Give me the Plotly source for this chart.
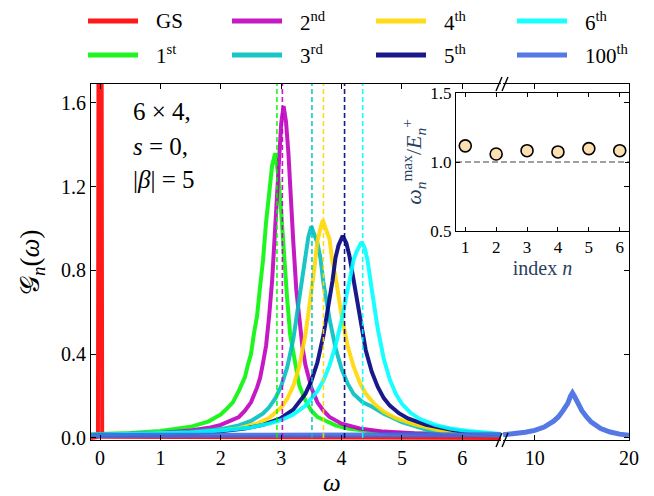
import plotly.graph_objects as go

# ---------------- data ----------------
gs_x = [-0.15, -0.035, -0.022, 0.0, 0.022, 0.035, 6.64]
gs_y = [0.0, 0.005, 2.6, 5.0, 2.6, 0.005, 0.0]

n1_x = [-0.15, 0.0, 0.5, 1.0, 1.5, 1.8, 2.0, 2.1, 2.2, 2.3, 2.4, 2.45, 2.5, 2.55, 2.6, 2.65, 2.7, 2.75,
        2.8, 2.85, 2.9, 2.95, 3.0, 3.05, 3.1, 3.15, 3.2, 3.3, 3.4, 3.5, 3.6, 3.75, 3.9, 4.1, 4.4, 4.8,
        5.3, 6.0, 6.64]
n1_y = [0.018, 0.019, 0.024, 0.033, 0.053, 0.079, 0.112, 0.14, 0.17, 0.226, 0.29, 0.35, 0.40, 0.50,
        0.58, 0.72, 0.85, 1.03, 1.17, 1.30, 1.36, 1.26, 1.08, 0.83, 0.66, 0.49, 0.40, 0.25, 0.18,
        0.13, 0.10, 0.082, 0.06, 0.045, 0.034, 0.025, 0.019, 0.015, 0.012]

n2_x = [-0.15, 0.0, 0.5, 1.0, 1.5, 1.8, 2.0, 2.2, 2.3, 2.4, 2.5, 2.6, 2.65, 2.7, 2.75, 2.8, 2.85,
        2.9, 2.95, 3.0, 3.04, 3.08, 3.12, 3.16, 3.2, 3.25, 3.3, 3.35, 3.4, 3.5, 3.6, 3.7, 3.8, 4.0,
        4.3, 4.7, 5.2, 6.0, 6.64]
n2_y = [0.014, 0.015, 0.018, 0.024, 0.036, 0.048, 0.062, 0.085, 0.10, 0.13, 0.17, 0.24, 0.285,
        0.36, 0.44, 0.58, 0.75, 1.00, 1.26, 1.50, 1.585, 1.51, 1.36, 1.12, 0.94, 0.71, 0.56, 0.44,
        0.35, 0.24, 0.17, 0.13, 0.10, 0.068, 0.045, 0.03, 0.022, 0.016, 0.012]

n3_x = [-0.15, 0.0, 0.5, 1.0, 1.5, 2.0, 2.3, 2.5, 2.7, 2.8, 2.9, 3.0, 3.1, 3.2, 3.25, 3.3, 3.35,
        3.4, 3.45, 3.5, 3.55, 3.6, 3.65, 3.7, 3.8, 3.9, 4.0, 4.1, 4.2, 4.35, 4.5, 4.7, 5.0, 5.45,
        6.0, 6.64]
n3_y = [0.014, 0.015, 0.017, 0.021, 0.028, 0.042, 0.06, 0.081, 0.117, 0.146, 0.187, 0.247, 0.337,
        0.47, 0.57, 0.66, 0.79, 0.89, 0.96, 1.01, 0.97, 0.93, 0.86, 0.74, 0.57, 0.43, 0.33, 0.26,
        0.21, 0.17, 0.15, 0.115, 0.075, 0.035, 0.022, 0.015]

n4_x = [-0.15, 0.0, 0.5, 1.0, 1.5, 2.0, 2.3, 2.6, 2.8, 3.0, 3.1, 3.2, 3.3, 3.4, 3.45, 3.5, 3.55,
        3.6, 3.65, 3.69, 3.75, 3.8, 3.85, 3.9, 4.0, 4.1, 4.2, 4.3, 4.4, 4.55, 4.7, 4.9, 5.2, 5.7,
        6.2, 6.64]
n4_y = [0.013, 0.014, 0.015, 0.019, 0.024, 0.034, 0.046, 0.068, 0.095, 0.145, 0.187, 0.248, 0.342,
        0.49, 0.58, 0.70, 0.81, 0.94, 1.00, 1.04, 0.99, 0.95, 0.84, 0.77, 0.585, 0.44, 0.34, 0.265,
        0.212, 0.16, 0.125, 0.094, 0.065, 0.03, 0.02, 0.014]

n5_x = [-0.15, 0.0, 0.5, 1.0, 1.5, 2.0, 2.4, 2.7, 3.0, 3.2, 3.4, 3.5, 3.6, 3.7, 3.75, 3.8, 3.85,
        3.9, 3.95, 4.02, 4.08, 4.13, 4.2, 4.3, 4.4, 4.5, 4.6, 4.7, 4.8, 4.95, 5.1, 5.4, 5.95, 6.64]
n5_y = [0.014, 0.014, 0.016, 0.019, 0.023, 0.032, 0.045, 0.062, 0.095, 0.135, 0.21, 0.272, 0.36,
        0.49, 0.57, 0.66, 0.75, 0.86, 0.92, 0.965, 0.93, 0.87, 0.75, 0.57, 0.42, 0.316, 0.243,
        0.19, 0.154, 0.118, 0.093, 0.062, 0.032, 0.016]

n6_x = [-0.15, 0.0, 0.5, 1.0, 1.5, 2.0, 2.5, 2.8, 3.0, 3.2, 3.4, 3.6, 3.7, 3.8, 3.9, 4.0, 4.05,
        4.1, 4.15, 4.2, 4.25, 4.33, 4.38, 4.43, 4.5, 4.6, 4.7, 4.8, 4.9, 5.0, 5.15, 5.3, 5.55, 5.8,
        6.1, 6.4, 6.64]
n6_y = [0.015, 0.016, 0.018, 0.021, 0.026, 0.035, 0.05, 0.068, 0.085, 0.112, 0.153, 0.223, 0.275,
        0.345, 0.44, 0.56, 0.63, 0.70, 0.78, 0.85, 0.89, 0.935, 0.91, 0.85, 0.71, 0.52, 0.377,
        0.278, 0.21, 0.163, 0.118, 0.09, 0.062, 0.045, 0.033, 0.024, 0.019]

n100_x_low = [-0.15, 6.64]
n100_y_low = [0.012, 0.015]
n100_x_high = [6.64, 8.0, 9.0, 10.0, 11.0, 12.0, 12.5, 13.0, 13.5, 13.8, 14.0, 14.2, 14.5, 15.0,
               15.5, 16.0, 17.0, 18.0, 19.0, 20.0]
n100_y_high = [0.015, 0.02, 0.027, 0.036, 0.052, 0.08, 0.10, 0.13, 0.165, 0.20, 0.215, 0.20,
               0.17, 0.13, 0.10, 0.075, 0.045, 0.028, 0.018, 0.012]

E_plus = [2.93, 3.02, 3.51, 3.70, 4.05, 4.35]

inset_n = [1, 2, 3, 4, 5, 6]
inset_ratio = [1.117, 1.058, 1.082, 1.073, 1.097, 1.082]

labels = ["GS", "1<sup>st</sup>", "2<sup>nd</sup>", "3<sup>rd</sup>", "4<sup>th</sup>",
          "5<sup>th</sup>", "6<sup>th</sup>", "100<sup>th</sup>"]
colors = ["rgba(255,0,0,0.9)", "rgba(0,245,0,0.88)", "rgba(191,0,191,0.9)", "rgba(0,191,191,0.9)",
          "rgba(255,215,0,0.9)", "rgba(0,0,128,0.9)", "rgba(0,255,255,0.9)", "rgba(65,105,225,0.9)"]
widths = [4, 4, 4, 4, 4, 4, 4, 5]

FONT = "Liberation Serif"
# page body has an 8px margin; plot area in page pixels: x 91..629, y 84..440
OFF = 8
W, H, L, B = 538, 356, 91, 440


def pxx(x):
    return (x - L) / W


def pxy(y):
    return (B - y) / H


fig = go.Figure()

series = [(gs_x, gs_y), (n1_x, n1_y), (n2_x, n2_y), (n3_x, n3_y), (n4_x, n4_y),
          (n5_x, n5_y), (n6_x, n6_y), (n100_x_low, n100_y_low)]
for (xs, ys), lab, col, lw in zip(series, labels, colors, widths):
    fig.add_trace(go.Scatter(x=xs, y=ys, mode="lines", name=lab, showlegend=False,
                             line=dict(color=col, width=lw), xaxis="x", yaxis="y"))
fig.add_trace(go.Scatter(x=n100_x_high, y=n100_y_high, mode="lines", showlegend=False,
                         line=dict(color=colors[7], width=5), xaxis="x2", yaxis="y2"))

# dashed E_n^+ lines
for e, col in zip(E_plus, colors[1:7]):
    fig.add_trace(go.Scatter(x=[e, e], y=[0, 1.69], mode="lines", showlegend=False,
                             line=dict(color=col, width=1.6, dash="5px,3px"),
                             xaxis="x", yaxis="y"))

# inset
fig.add_trace(go.Scatter(x=[0.7, 6.3], y=[1.0, 1.0], mode="lines", showlegend=False,
                         line=dict(color="#a0a0a0", width=1.8, dash="6px,3px"),
                         xaxis="x3", yaxis="y3"))
fig.add_trace(go.Scatter(x=inset_n, y=inset_ratio, mode="markers", showlegend=False,
                         marker=dict(size=12, color="#fde0b2", line=dict(color="black", width=1.6)),
                         xaxis="x3", yaxis="y3"))

tickfont = dict(family=FONT, size=20, color="black")
axis_common = dict(showline=True, linecolor="black", linewidth=1.2, ticks="inside", ticklen=5,
                   tickwidth=1, tickcolor="black", showgrid=False, zeroline=False, tickfont=tickfont)
inset_common = {**axis_common, "tickfont": dict(family=FONT, size=17, color="black"), "ticklen": 4}

brk = pxx(502)
fig.update_layout(
    width=654 - OFF, height=496 - OFF, margin=dict(l=91 - OFF, r=25, t=84 - OFF, b=56),
    paper_bgcolor="white", plot_bgcolor="rgba(0,0,0,0)",
    xaxis=dict(domain=[0, brk - 0.002], range=[-0.15, 6.64], tickvals=[0, 1, 2, 3, 4, 5, 6],
               mirror="ticks", anchor="y", **axis_common),
    xaxis2=dict(domain=[brk + 0.002, 1], range=[6.64, 20], tickvals=[10, 20], mirror="ticks",
                anchor="y2", **axis_common),
    yaxis=dict(domain=[0, 1], range=[-0.01, 1.69], tickvals=[0, 0.4, 0.8, 1.2, 1.6],
               tickformat=".1f", anchor="x", **axis_common),
    yaxis2=dict(domain=[0, 1], range=[-0.01, 1.69], tickvals=[0, 0.4, 0.8, 1.2, 1.6],
                showticklabels=False, anchor="x2", side="right", overlaying="y",
                **axis_common),
    xaxis3=dict(domain=[pxx(456), 1], range=[0.7, 6.3], tickvals=[1, 2, 3, 4, 5, 6],
                mirror="ticks", anchor="y3",
                title=dict(text="index <i>n</i>", font=dict(family=FONT, size=20), standoff=2),
                **inset_common),
    yaxis3=dict(domain=[pxy(231), pxy(93)], range=[0.5, 1.5], tickvals=[0.5, 1.0, 1.5],
                tickformat=".1f", mirror="ticks", anchor="x3",
                title=dict(text="<i>ω</i><sub><i>n</i></sub><sup>max</sup>/<i>E</i><sub><i>n</i></sub><sup>+</sup>",
                           font=dict(family=FONT, size=22), standoff=2),
                **inset_common),
)

shapes = []
# break marks
for ybrk in (440, 84):
    for cx in (499, 505):
        shapes.append(dict(type="line", xref="paper", yref="paper",
                           x0=pxx(cx - 3), y0=pxy(ybrk + 7), x1=pxx(cx + 3), y1=pxy(ybrk - 7),
                           line=dict(color="black", width=1.4)))
# legend handles
leg_order = [0, 2, 4, 6, 1, 3, 5, 7]
col_x = [88, 232, 376, 517]
row_y = [21, 55]
annotations = []
for k, idx in enumerate(leg_order):
    r, c = divmod(k, 4)
    x0 = col_x[c]
    y0 = row_y[r]
    shapes.append(dict(type="line", xref="paper", yref="paper", x0=pxx(x0), x1=pxx(x0 + 50),
                       y0=pxy(y0), y1=pxy(y0), line=dict(color=colors[idx], width=5)))
    annotations.append(dict(xref="paper", yref="paper", x=pxx(x0 + 66), y=pxy(y0), text=labels[idx],
                            showarrow=False, xanchor="left", yanchor="middle",
                            font=dict(family=FONT, size=21, color="black")))

# text block
for txt, yy in [("6 × 4,", 112), ("<i>s</i> = 0,", 146), ("|<i>β</i>| = 5", 179)]:
    annotations.append(dict(xref="paper", yref="paper", x=pxx(131), y=pxy(yy), text=txt,
                            showarrow=False, xanchor="left", yanchor="middle",
                            font=dict(family=FONT, size=25, color="black")))
# axis titles
annotations.append(dict(xref="paper", yref="paper", x=pxx(332), y=pxy(482), text="<i>ω</i>",
                        showarrow=False, xanchor="center", yanchor="middle",
                        font=dict(family=FONT, size=25, color="black")))
annotations.append(dict(xref="paper", yref="paper", x=pxx(32), y=pxy(262),
                        text="𝒢<sub><i>n</i></sub>(<i>ω</i>)", textangle=-90,
                        showarrow=False, xanchor="center", yanchor="middle",
                        font=dict(family=FONT, size=27, color="black")))

fig.update_layout(shapes=shapes, annotations=annotations)
fig.write_html("out.html")
